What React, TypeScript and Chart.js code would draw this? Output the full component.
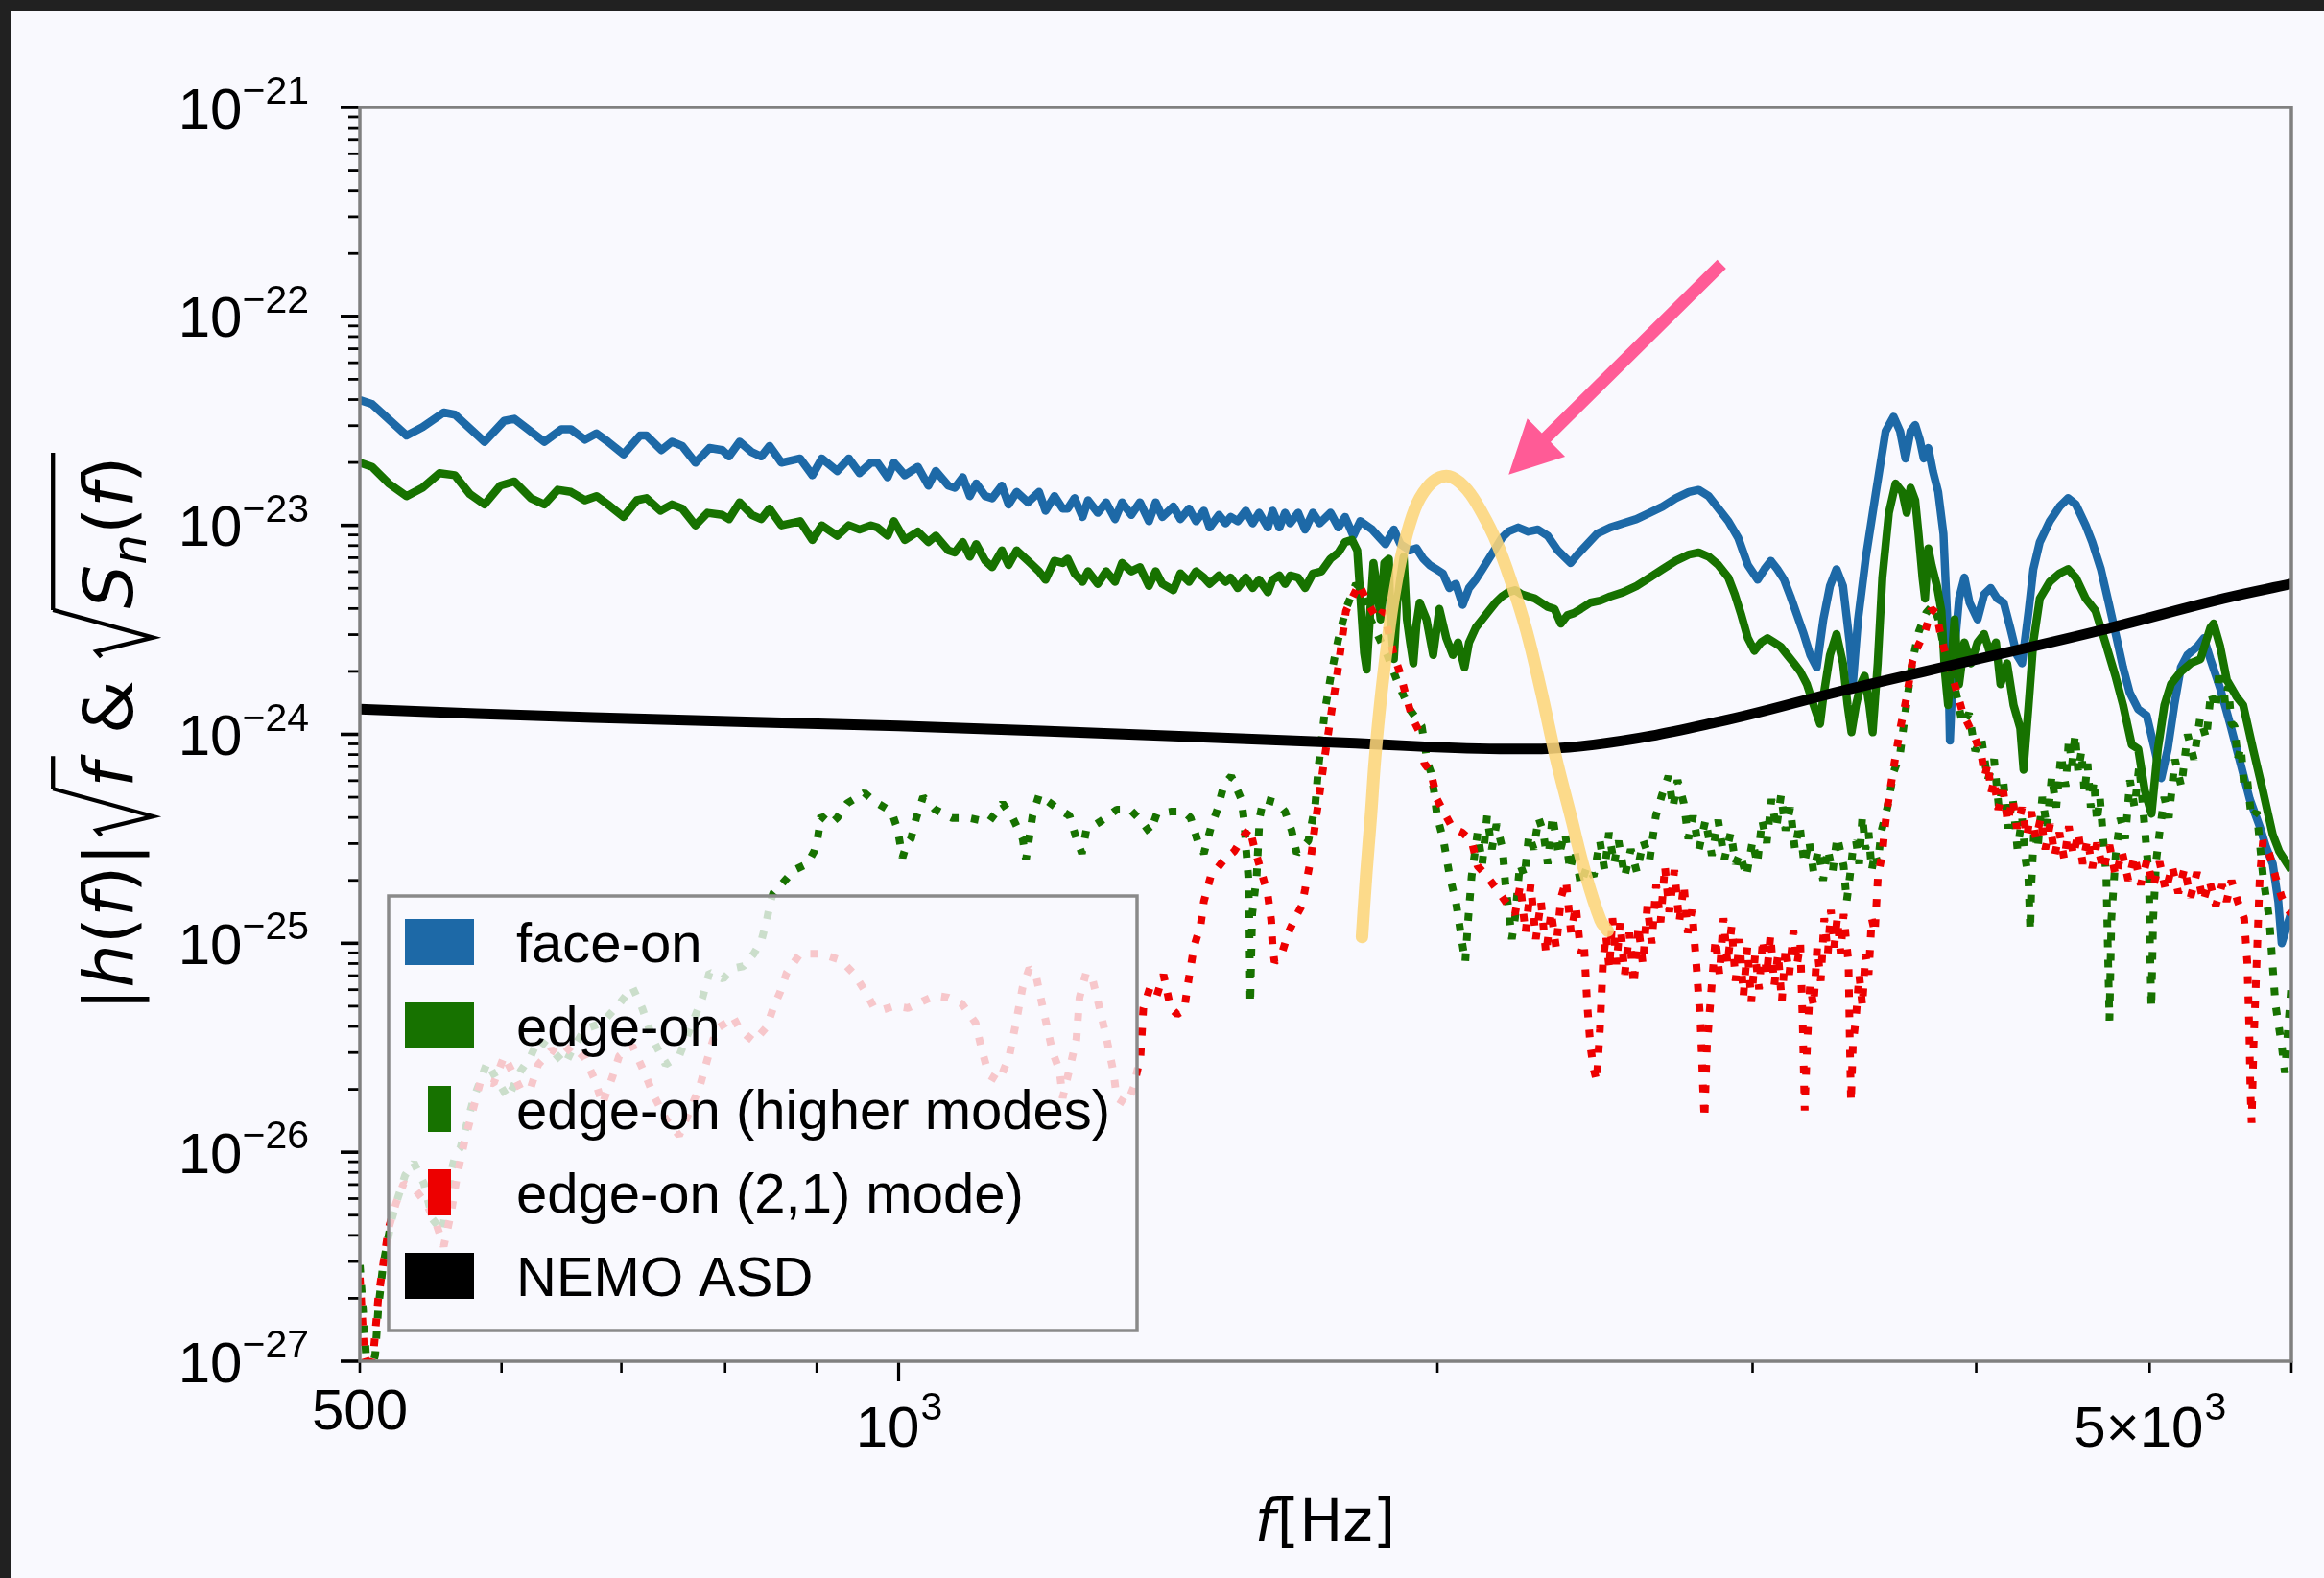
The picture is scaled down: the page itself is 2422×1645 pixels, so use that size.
import React, { useEffect, useRef } from 'react';
import { Chart, registerables } from 'chart.js';

Chart.register(...registerables);

// ---------------- data: [frequency Hz, log10 of strain] ----------------
const faceOn: [number, number][] = [
  [500,-22.40],[508,-22.42],[531,-22.57],[542,-22.53],[557,-22.46],[565,-22.47],[587,-22.60],[602,-22.50],[610,-22.49],[634,-22.60],
  [648,-22.54],[656,-22.54],[668,-22.59],[678,-22.56],[688,-22.60],[702,-22.66],[717,-22.57],[723,-22.57],[737,-22.64],[747,-22.60],
  [757,-22.62],[770,-22.70],[784,-22.63],[797,-22.64],[804,-22.67],[815,-22.60],[828,-22.65],[838,-22.67],[847,-22.62],[860,-22.70],
  [881,-22.68],[895,-22.76],[906,-22.68],[924,-22.74],[938,-22.68],[951,-22.75],[965,-22.70],[973,-22.70],[986,-22.77],[994,-22.70],
  [1008,-22.76],[1025,-22.72],[1039,-22.81],[1049,-22.74],[1066,-22.81],[1075,-22.82],[1086,-22.77],[1096,-22.86],[1105,-22.80],[1118,-22.86],
  [1128,-22.87],[1142,-22.81],[1152,-22.90],[1164,-22.84],[1181,-22.89],[1198,-22.84],[1208,-22.93],[1222,-22.86],[1235,-22.92],[1243,-22.92],
  [1254,-22.87],[1267,-22.96],[1276,-22.88],[1292,-22.94],[1306,-22.89],[1321,-22.97],[1333,-22.89],[1349,-22.95],[1364,-22.89],[1380,-22.98],
  [1392,-22.89],[1404,-22.96],[1424,-22.91],[1437,-22.97],[1453,-22.92],[1466,-22.98],[1481,-22.93],[1492,-23.01],[1510,-22.95],[1523,-22.99],
  [1533,-22.96],[1547,-22.98],[1563,-22.93],[1577,-22.99],[1590,-22.94],[1608,-23.01],[1618,-22.93],[1632,-23.01],[1644,-22.94],[1655,-22.99],
  [1672,-22.94],[1687,-23.02],[1704,-22.94],[1719,-22.99],[1743,-22.94],[1761,-23.01],[1776,-22.96],[1795,-23.05],[1811,-22.98],[1839,-23.02],
  [1871,-23.09],[1891,-23.02],[1907,-23.09],[1931,-23.12],[1947,-23.11],[1964,-23.16],[1980,-23.19],[1997,-23.21],[2014,-23.23],[2031,-23.30],
  [2048,-23.28],[2066,-23.38],[2083,-23.30],[2101,-23.26],[2119,-23.21],[2137,-23.16],[2155,-23.11],[2173,-23.06],[2191,-23.03],[2219,-23.01],
  [2248,-23.03],[2276,-23.02],[2305,-23.05],[2335,-23.12],[2354,-23.15],[2374,-23.18],[2395,-23.14],[2425,-23.09],[2456,-23.04],[2498,-23.01],
  [2540,-22.99],[2584,-22.97],[2628,-22.94],[2672,-22.91],[2718,-22.87],[2764,-22.84],[2799,-22.83],[2835,-22.86],[2871,-22.92],[2908,-22.98],
  [2945,-23.06],[2982,-23.19],[3020,-23.26],[3046,-23.21],[3071,-23.17],[3097,-23.21],[3124,-23.26],[3150,-23.34],[3177,-23.43],[3204,-23.52],
  [3231,-23.62],[3258,-23.68],[3286,-23.45],[3314,-23.29],[3342,-23.21],[3370,-23.29],[3399,-23.56],[3413,-23.76],[3436,-23.45],[3471,-23.15],
  [3516,-22.84],[3560,-22.55],[3597,-22.48],[3627,-22.55],[3652,-22.68],[3676,-22.55],[3698,-22.52],[3720,-22.59],[3739,-22.68],[3761,-22.63],
  [3783,-22.74],[3809,-22.84],[3835,-23.04],[3854,-23.45],[3867,-24.03],[3884,-23.66],[3913,-23.35],[3940,-23.25],[3966,-23.37],[4007,-23.45],
  [4041,-23.33],[4075,-23.30],[4110,-23.35],[4144,-23.37],[4179,-23.49],[4215,-23.62],[4243,-23.66],[4279,-23.41],[4305,-23.21],[4341,-23.08],
  [4397,-22.98],[4453,-22.91],[4502,-22.87],[4547,-22.90],[4605,-23.00],[4644,-23.08],[4696,-23.21],[4743,-23.37],[4792,-23.54],[4832,-23.68],
  [4873,-23.80],[4927,-23.88],[4981,-23.91],[5032,-24.07],[5075,-24.21],[5118,-24.07],[5161,-23.86],[5205,-23.68],[5249,-23.62],[5316,-23.58],
  [5361,-23.54],[5406,-23.64],[5475,-23.78],[5545,-23.95],[5616,-24.13],[5687,-24.31],[5760,-24.44],[5808,-24.54],[5858,-24.62],[5900,-24.80],
  [5926,-25.00],[6000,-24.85],
];

const edgeOn: [number, number][] = [
  [500,-22.70],[508,-22.72],[519,-22.80],[531,-22.86],[542,-22.82],[554,-22.75],[565,-22.76],[576,-22.85],[587,-22.90],[599,-22.81],
  [610,-22.79],[623,-22.87],[634,-22.90],[645,-22.83],[656,-22.84],[668,-22.88],[678,-22.86],[688,-22.90],[702,-22.96],[714,-22.88],
  [723,-22.87],[736,-22.93],[747,-22.90],[757,-22.92],[770,-23.00],[782,-22.94],[797,-22.95],[804,-22.97],[815,-22.89],[828,-22.95],
  [838,-22.97],[847,-22.92],[860,-23.00],[881,-22.98],[895,-23.07],[906,-23.00],[924,-23.05],[938,-23.00],[951,-23.02],[965,-23.00],
  [973,-23.01],[986,-23.05],[994,-22.98],[1008,-23.07],[1025,-23.03],[1039,-23.08],[1049,-23.05],[1066,-23.12],[1075,-23.13],[1086,-23.08],
  [1096,-23.15],[1105,-23.09],[1118,-23.17],[1128,-23.20],[1142,-23.12],[1152,-23.19],[1164,-23.12],[1181,-23.17],[1198,-23.22],[1208,-23.26],
  [1222,-23.17],[1235,-23.18],[1243,-23.16],[1254,-23.23],[1267,-23.27],[1276,-23.22],[1292,-23.28],[1306,-23.22],[1321,-23.27],[1333,-23.18],
  [1349,-23.22],[1364,-23.20],[1380,-23.29],[1392,-23.22],[1404,-23.28],[1424,-23.31],[1437,-23.23],[1453,-23.27],[1466,-23.22],[1481,-23.25],
  [1492,-23.28],[1510,-23.24],[1523,-23.27],[1533,-23.25],[1547,-23.30],[1563,-23.25],[1577,-23.30],[1590,-23.26],[1608,-23.32],[1618,-23.26],
  [1632,-23.24],[1644,-23.28],[1655,-23.24],[1672,-23.25],[1687,-23.30],[1704,-23.23],[1723,-23.22],[1743,-23.16],[1761,-23.13],[1776,-23.08],
  [1792,-23.07],[1804,-23.12],[1820,-23.61],[1826,-23.69],[1836,-23.36],[1842,-23.18],[1852,-23.32],[1859,-23.45],[1868,-23.18],[1879,-23.16],
  [1883,-23.45],[1891,-23.64],[1899,-23.37],[1907,-23.25],[1915,-23.15],[1923,-23.45],[1931,-23.56],[1939,-23.66],[1947,-23.47],[1955,-23.37],
  [1972,-23.45],[1989,-23.62],[2005,-23.40],[2023,-23.54],[2040,-23.62],[2054,-23.56],[2071,-23.68],[2083,-23.56],[2101,-23.49],[2119,-23.45],
  [2137,-23.41],[2155,-23.37],[2173,-23.34],[2191,-23.32],[2210,-23.31],[2229,-23.33],[2248,-23.34],[2267,-23.35],[2286,-23.37],[2305,-23.39],
  [2325,-23.40],[2344,-23.47],[2364,-23.43],[2384,-23.42],[2405,-23.40],[2435,-23.37],[2466,-23.36],[2498,-23.34],[2540,-23.32],[2584,-23.29],
  [2628,-23.25],[2672,-23.21],[2718,-23.17],[2764,-23.14],[2799,-23.13],[2835,-23.15],[2871,-23.19],[2908,-23.25],[2932,-23.33],[2957,-23.43],
  [2982,-23.54],[3007,-23.60],[3033,-23.56],[3058,-23.54],[3084,-23.56],[3110,-23.58],[3137,-23.62],[3164,-23.66],[3190,-23.70],[3217,-23.76],
  [3245,-23.86],[3272,-23.95],[3286,-23.82],[3314,-23.62],[3342,-23.52],[3370,-23.66],[3390,-23.86],[3407,-23.99],[3427,-23.86],[3448,-23.76],
  [3465,-23.72],[3486,-23.86],[3501,-23.99],[3524,-23.66],[3545,-23.25],[3575,-22.94],[3606,-22.80],[3637,-22.84],[3658,-22.94],[3676,-22.82],
  [3698,-22.88],[3714,-23.04],[3733,-23.25],[3745,-23.35],[3761,-23.11],[3777,-23.19],[3803,-23.29],[3825,-23.41],[3842,-23.70],[3858,-23.86],
  [3890,-23.45],[3913,-23.76],[3940,-23.56],[3973,-23.66],[4007,-23.56],[4041,-23.52],[4075,-23.62],[4103,-23.56],[4127,-23.76],[4162,-23.66],
  [4197,-23.86],[4233,-23.97],[4251,-24.17],[4279,-23.86],[4305,-23.56],[4341,-23.35],[4397,-23.27],[4453,-23.23],[4502,-23.21],[4547,-23.25],
  [4605,-23.35],[4664,-23.41],[4723,-23.56],[4784,-23.72],[4832,-23.86],[4886,-24.05],[4927,-24.07],[4969,-24.27],[5012,-24.38],[5053,-24.07],
  [5096,-23.86],[5139,-23.76],[5205,-23.70],[5271,-23.66],[5338,-23.64],[5406,-23.49],[5429,-23.47],[5475,-23.58],[5522,-23.74],[5592,-23.82],
  [5639,-23.86],[5711,-24.07],[5784,-24.27],[5858,-24.48],[5907,-24.56],[6000,-24.65],
];

const edgeOnHigher: [number, number][] = [
  [500,-26.54],[502,-26.75],[504,-26.97],[507,-27.05],[510,-26.97],[512,-26.75],[515,-26.55],[518,-26.43],[521,-26.32],[525,-26.22],
  [530,-26.11],[536,-26.05],[543,-26.15],[549,-26.32],[556,-26.38],[562,-26.10],[566,-26.00],[569,-25.98],[579,-25.74],[589,-25.57],
  [597,-25.66],[605,-25.74],[615,-25.61],[623,-25.54],[629,-25.46],[640,-25.51],[651,-25.58],[657,-25.51],[668,-25.41],[683,-25.38],
  [698,-25.29],[710,-25.21],[719,-25.31],[729,-25.46],[741,-25.58],[754,-25.54],[767,-25.38],[777,-25.26],[784,-25.14],[798,-25.17],
  [808,-25.12],[819,-25.11],[830,-25.05],[838,-24.99],[844,-24.89],[848,-24.80],[851,-24.76],[866,-24.69],[874,-24.65],[889,-24.62],
  [897,-24.56],[901,-24.50],[905,-24.39],[916,-24.43],[924,-24.40],[936,-24.33],[957,-24.28],[969,-24.32],[991,-24.37],[999,-24.46],
  [1005,-24.59],[1010,-24.53],[1016,-24.50],[1023,-24.40],[1032,-24.30],[1048,-24.36],[1071,-24.40],[1094,-24.40],[1123,-24.42],[1143,-24.33],
  [1158,-24.40],[1173,-24.50],[1178,-24.60],[1188,-24.39],[1198,-24.29],[1225,-24.35],[1246,-24.39],[1257,-24.50],[1266,-24.57],[1273,-24.46],
  [1295,-24.42],[1324,-24.36],[1347,-24.36],[1365,-24.41],[1382,-24.47],[1394,-24.38],[1419,-24.37],[1444,-24.37],[1456,-24.40],[1469,-24.51],
  [1481,-24.57],[1494,-24.45],[1507,-24.36],[1520,-24.24],[1534,-24.20],[1554,-24.31],[1560,-24.42],[1563,-24.53],[1568,-24.68],[1570,-24.86],
  [1572,-25.29],[1576,-24.86],[1585,-24.68],[1591,-24.40],[1599,-24.31],[1630,-24.33],[1644,-24.37],[1658,-24.46],[1669,-24.57],[1694,-24.51],
  [1709,-24.34],[1716,-24.16],[1724,-24.01],[1731,-23.88],[1743,-23.73],[1760,-23.55],[1778,-23.40],[1801,-23.28],[1812,-23.30],[1828,-23.42],
  [1851,-23.52],[1875,-23.62],[1900,-23.75],[1930,-23.88],[1960,-23.96],[1975,-24.14],[1983,-24.18],[1991,-24.27],[1999,-24.39],[2016,-24.51],
  [2032,-24.68],[2048,-24.80],[2065,-25.00],[2073,-25.09],[2081,-24.88],[2090,-24.68],[2106,-24.47],[2119,-24.62],[2132,-24.39],[2145,-24.55],
  [2158,-24.43],[2175,-24.55],[2183,-24.72],[2192,-24.84],[2201,-24.98],[2210,-24.88],[2224,-24.62],[2237,-24.68],[2250,-24.48],[2264,-24.55],
  [2278,-24.40],[2292,-24.47],[2305,-24.62],[2319,-24.39],[2338,-24.58],[2357,-24.47],[2372,-24.65],[2386,-24.55],[2405,-24.72],[2425,-24.63],
  [2445,-24.68],[2465,-24.51],[2480,-24.65],[2494,-24.47],[2510,-24.62],[2525,-24.51],[2545,-24.68],[2565,-24.55],[2585,-24.66],[2607,-24.51],
  [2628,-24.60],[2649,-24.39],[2670,-24.29],[2692,-24.20],[2708,-24.35],[2724,-24.22],[2746,-24.33],[2762,-24.50],[2779,-24.39],[2800,-24.55],
  [2824,-24.41],[2847,-24.58],[2870,-24.41],[2893,-24.60],[2917,-24.47],[2935,-24.62],[2952,-24.57],[2976,-24.68],[3000,-24.51],[3018,-24.62],
  [3037,-24.41],[3055,-24.52],[3074,-24.31],[3093,-24.45],[3112,-24.29],[3130,-24.46],[3149,-24.35],[3168,-24.55],[3187,-24.43],[3206,-24.62],
  [3226,-24.51],[3245,-24.66],[3265,-24.55],[3285,-24.70],[3305,-24.55],[3325,-24.66],[3345,-24.49],[3373,-24.63],[3386,-24.80],[3400,-24.68],
  [3413,-24.55],[3427,-24.51],[3441,-24.62],[3455,-24.39],[3469,-24.55],[3483,-24.47],[3497,-24.65],[3511,-24.57],[3525,-24.62],[3539,-24.47],
  [3568,-24.35],[3597,-24.18],[3626,-24.10],[3656,-23.86],[3685,-23.65],[3715,-23.51],[3750,-23.42],[3785,-23.38],[3810,-23.45],[3840,-23.60],
  [3870,-23.70],[3900,-23.81],[3930,-23.95],[3963,-23.90],[3995,-24.08],[4027,-24.02],[4060,-24.22],[4093,-24.12],[4118,-24.35],[4142,-24.22],
  [4167,-24.45],[4192,-24.30],[4218,-24.55],[4243,-24.40],[4262,-24.60],[4277,-24.68],[4288,-24.94],[4294,-24.72],[4310,-24.45],[4329,-24.55],
  [4355,-24.30],[4381,-24.45],[4408,-24.20],[4434,-24.35],[4461,-24.10],[4488,-24.25],[4506,-24.02],[4524,-24.15],[4543,-24.00],[4561,-24.18],
  [4580,-24.08],[4598,-24.28],[4616,-24.14],[4635,-24.35],[4654,-24.22],[4672,-24.42],[4690,-24.30],[4710,-24.50],[4729,-24.68],[4737,-24.98],
  [4748,-25.37],[4760,-24.88],[4787,-24.57],[4815,-24.40],[4845,-24.50],[4875,-24.22],[4904,-24.35],[4933,-24.15],[4963,-24.40],[4980,-24.55],
  [4995,-24.68],[5003,-25.04],[5011,-25.31],[5023,-24.88],[5043,-24.60],[5064,-24.47],[5095,-24.30],[5125,-24.40],[5165,-24.12],[5208,-24.25],
  [5250,-24.00],[5293,-24.12],[5335,-23.92],[5378,-24.02],[5410,-23.80],[5444,-23.88],[5466,-23.71],[5488,-23.69],[5510,-23.85],[5532,-23.77],
  [5555,-23.95],[5577,-23.96],[5600,-24.12],[5623,-24.06],[5646,-24.25],[5669,-24.22],[5700,-24.40],[5738,-24.37],[5785,-24.68],[5831,-24.88],
  [5878,-25.29],[5926,-25.49],[5950,-25.62],[5975,-25.40],[6000,-25.20],
];

const edgeOn21: [number, number][] = [
  [500,-26.60],[503,-26.97],[506,-27.05],[509,-26.95],[512,-26.70],[516,-26.50],[519,-26.36],[524,-26.24],[529,-26.15],[536,-26.17],
  [545,-26.25],[552,-26.35],[557,-26.45],[562,-26.30],[567,-26.10],[572,-25.95],[579,-25.78],[584,-25.66],[594,-25.67],[602,-25.54],
  [607,-25.60],[615,-25.70],[623,-25.69],[629,-25.58],[640,-25.51],[648,-25.54],[657,-25.49],[668,-25.55],[677,-25.66],[683,-25.77],
  [692,-25.64],[698,-25.54],[710,-25.49],[722,-25.63],[729,-25.72],[741,-25.84],[754,-25.92],[761,-25.84],[774,-25.69],[784,-25.52],
  [791,-25.41],[801,-25.38],[808,-25.35],[815,-25.41],[822,-25.44],[830,-25.47],[844,-25.40],[851,-25.31],[859,-25.23],[866,-25.14],
  [881,-25.05],[905,-25.05],[928,-25.08],[945,-25.15],[961,-25.25],[969,-25.31],[978,-25.32],[995,-25.30],[1012,-25.31],[1030,-25.28],
  [1048,-25.25],[1066,-25.26],[1085,-25.29],[1104,-25.38],[1113,-25.51],[1123,-25.63],[1138,-25.66],[1153,-25.54],[1163,-25.38],[1173,-25.21],
  [1183,-25.12],[1193,-25.15],[1204,-25.31],[1209,-25.38],[1219,-25.52],[1230,-25.61],[1235,-25.74],[1246,-25.60],[1257,-25.46],[1262,-25.26],
  [1273,-25.14],[1284,-25.18],[1295,-25.31],[1307,-25.46],[1318,-25.61],[1324,-25.74],[1341,-25.77],[1353,-25.69],[1365,-25.54],[1370,-25.31],
  [1382,-25.21],[1394,-25.25],[1406,-25.15],[1419,-25.31],[1431,-25.34],[1444,-25.32],[1450,-25.21],[1462,-25.02],[1475,-24.91],[1481,-24.80],
  [1494,-24.68],[1520,-24.60],[1540,-24.56],[1561,-24.48],[1571,-24.45],[1581,-24.55],[1595,-24.66],[1608,-24.77],[1615,-24.89],[1618,-25.02],
  [1622,-25.09],[1637,-25.05],[1651,-24.95],[1665,-24.88],[1680,-24.82],[1687,-24.74],[1699,-24.60],[1709,-24.43],[1719,-24.28],[1728,-24.14],
  [1737,-24.01],[1746,-23.88],[1755,-23.76],[1778,-23.41],[1808,-23.28],[1828,-23.37],[1851,-23.45],[1866,-23.41],[1891,-23.62],[1905,-23.70],
  [1920,-23.81],[1936,-23.92],[1952,-23.98],[1967,-24.14],[1983,-24.18],[1999,-24.31],[2016,-24.37],[2040,-24.45],[2065,-24.47],[2090,-24.51],
  [2106,-24.63],[2132,-24.68],[2158,-24.74],[2183,-24.80],[2210,-24.86],[2225,-24.72],[2240,-24.95],[2255,-24.72],[2270,-24.98],[2285,-24.80],
  [2300,-25.05],[2315,-24.85],[2330,-25.02],[2345,-24.78],[2360,-24.70],[2375,-24.95],[2390,-24.82],[2405,-25.05],[2415,-25.00],[2425,-25.29],
  [2435,-25.49],[2445,-25.60],[2455,-25.66],[2465,-25.41],[2475,-25.09],[2484,-24.96],[2495,-25.12],[2505,-24.88],[2518,-25.10],[2530,-24.90],
  [2545,-25.15],[2560,-24.95],[2575,-25.20],[2590,-24.92],[2605,-25.10],[2620,-24.82],[2635,-25.00],[2650,-24.72],[2665,-24.90],[2680,-24.63],
  [2695,-24.85],[2713,-24.65],[2730,-24.90],[2746,-24.72],[2760,-24.95],[2775,-24.84],[2790,-25.09],[2806,-25.39],[2815,-25.70],[2820,-25.84],
  [2829,-25.49],[2847,-25.19],[2860,-24.98],[2875,-25.15],[2890,-24.88],[2905,-25.10],[2920,-24.92],[2935,-25.18],[2950,-24.98],[2965,-25.25],
  [2980,-25.02],[2995,-25.28],[3010,-25.05],[3025,-25.22],[3040,-24.98],[3055,-25.15],[3070,-24.96],[3085,-25.20],[3100,-25.05],[3115,-25.28],
  [3130,-25.02],[3145,-25.15],[3162,-24.94],[3177,-25.10],[3190,-25.00],[3200,-25.39],[3208,-25.80],[3218,-25.49],[3230,-25.20],[3245,-25.30],
  [3260,-25.02],[3275,-25.18],[3290,-24.88],[3305,-25.05],[3318,-24.84],[3332,-25.02],[3345,-24.88],[3360,-25.05],[3373,-24.86],[3385,-25.00],
  [3394,-25.09],[3400,-25.49],[3405,-25.76],[3413,-25.49],[3427,-25.35],[3441,-25.15],[3455,-25.30],[3469,-25.05],[3483,-25.15],[3497,-24.88],
  [3511,-24.95],[3525,-24.68],[3545,-24.57],[3554,-24.47],[3568,-24.35],[3597,-24.16],[3626,-23.98],[3656,-23.83],[3685,-23.65],[3715,-23.57],
  [3745,-23.51],[3776,-23.40],[3801,-23.42],[3822,-23.53],[3838,-23.59],[3869,-23.69],[3900,-23.79],[3932,-23.90],[3963,-23.96],[3995,-24.02],
  [4027,-24.10],[4045,-24.20],[4060,-24.14],[4078,-24.28],[4093,-24.22],[4115,-24.36],[4142,-24.27],[4165,-24.42],[4192,-24.31],[4215,-24.45],
  [4243,-24.35],[4268,-24.49],[4294,-24.37],[4320,-24.50],[4346,-24.40],[4372,-24.55],[4399,-24.43],[4425,-24.58],[4452,-24.47],[4480,-24.60],
  [4506,-24.44],[4533,-24.58],[4561,-24.47],[4588,-24.62],[4616,-24.50],[4644,-24.64],[4672,-24.52],[4710,-24.65],[4748,-24.53],[4786,-24.68],
  [4825,-24.56],[4865,-24.70],[4904,-24.58],[4943,-24.72],[4983,-24.60],[5023,-24.73],[5064,-24.61],[5105,-24.75],[5146,-24.63],[5188,-24.76],
  [5229,-24.64],[5270,-24.78],[5314,-24.66],[5357,-24.80],[5400,-24.70],[5444,-24.82],[5488,-24.72],[5520,-24.80],[5555,-24.70],[5600,-24.80],
  [5646,-24.88],[5669,-25.09],[5683,-25.39],[5692,-25.70],[5701,-25.86],[5715,-25.49],[5738,-25.09],[5761,-24.68],[5785,-24.51],[5831,-24.57],
  [5878,-24.68],[5926,-24.78],[5974,-24.84],[6000,-24.86],
];

const nemoAsd: [number, number][] = [
  [500,-23.88],[675,-23.92],[1000,-23.96],[1446,-24.01],[1772,-24.04],[2167,-24.07],[2445,-24.05],[2872,-23.94],
  [3373,-23.79],[3962,-23.65],[4656,-23.51],[5500,-23.35],[6000,-23.28],
];

// hand-drawn highlight (yellow arch) and the pink arrow annotation
const sketchArch: [number, number][] = [
  [1815,-24.97],[1825,-24.67],[1836,-24.39],[1846,-24.11],[1860,-23.82],[1875,-23.57],[1892,-23.33],[1914,-23.11],
  [1943,-22.92],[1973,-22.82],[2007,-22.77],[2038,-22.77],[2078,-22.83],[2118,-22.94],[2158,-23.08],[2199,-23.27],
  [2242,-23.50],[2285,-23.79],[2329,-24.11],[2374,-24.39],[2420,-24.67],[2467,-24.89],[2490,-24.94],
];
const arrowTail: [number, number] = [2883, -21.75];
const arrowTip: [number, number] = [2192, -22.757];

// axis ticks / labels
const xMinorTicks = [500, 600, 700, 800, 900, 2000, 3000, 4000, 5000, 6000];
const xMajorTicks = [1000];
const xTickLabels = [
  { v: 500, base: '500', sup: '' },
  { v: 1000, base: '10', sup: '3' },
  { v: 5000, base: '5×10', sup: '3' },
];
const yDecades = [-27, -26, -25, -24, -23, -22, -21];
const seriesLabels = ['face-on', 'edge-on', 'edge-on (higher modes)', 'edge-on (2,1) mode)', 'NEMO ASD'];

// ---------------- styling ----------------
const BLUE = '#1d69a7';
const GREEN = '#177200';
const RED = '#ed0000';
const BLACK = '#000000';
const YELLOW = 'rgba(252, 213, 122, 0.88)';
const PINK = '#ff5b96';
const BG = '#f9f9fe';
const SANS = '"Liberation Sans", Arial, Helvetica, sans-serif';
const MATH = '"DejaVu Sans", sans-serif';
const TICK_FONT = 60;
const SUP_FONT = 41;

const W = 2411;
const H = 1634;

const toPts = (arr: [number, number][]) => arr.map(([f, lg]) => ({ x: f, y: Math.pow(10, lg) }));

function drawYTitle(ctx: CanvasRenderingContext2D, baseX: number, centerY: number) {
  const S = 72;
  const reg = `${S}px ${MATH}`;
  const it = `italic ${S}px ${MATH}`;
  const sub = `italic ${Math.round(S * 0.7)}px ${MATH}`;
  type Item = { kind: 'text' | 'rad' | 'gap'; t?: string; font?: string; dy?: number; w: number; over?: number };
  const items: Item[] = [];
  const T = (t: string, font: string, dy = 0, over = 0) => {
    ctx.font = font;
    items.push({ kind: 'text', t, font, dy, w: ctx.measureText(t).width, over });
  };
  const G = (w: number, over = 0) => items.push({ kind: 'gap', w, over });
  const R = () => items.push({ kind: 'rad', w: S * 0.72 });
  T('|', reg); T('h', it); T('(', reg); T('f', it); T(')', reg); T('|', reg); G(S * 0.08);
  R(); T('f', it, 0, 1); G(S * 0.1, 1);
  T(' & ', reg);
  R(); T('S', it, 0, 2); T('n', sub, S * 0.2, 2); T('(', reg, 0, 2); T('f', it, 0, 2); T(')', reg, 0, 2); G(S * 0.05, 2);
  const total = items.reduce((s, i) => s + i.w, 0);
  ctx.save();
  ctx.translate(baseX, centerY);
  ctx.rotate(-Math.PI / 2);
  ctx.fillStyle = '#000';
  ctx.strokeStyle = '#000';
  ctx.textBaseline = 'alphabetic';
  ctx.textAlign = 'left';
  let u = -total / 2;
  const overTop = S * 1.15;
  const spans: Record<number, [number, number]> = {};
  for (const item of items) {
    if (item.kind === 'text') {
      ctx.font = item.font!;
      ctx.fillText(item.t!, u, item.dy || 0);
    } else if (item.kind === 'rad') {
      ctx.lineWidth = S * 0.06;
      ctx.lineJoin = 'miter';
      ctx.beginPath();
      ctx.moveTo(u + S * 0.02, -S * 0.45);
      ctx.lineTo(u + S * 0.1, -S * 0.52);
      ctx.lineTo(u + S * 0.3, S * 0.3);
      ctx.lineTo(u + S * 0.7, -overTop);
      ctx.stroke();
    }
    if (item.over) {
      const sp = spans[item.over];
      if (!sp) spans[item.over] = [u - S * 0.02, u + item.w];
      else sp[1] = u + item.w;
    }
    u += item.w;
  }
  ctx.lineWidth = S * 0.06;
  for (const k of Object.keys(spans)) {
    const [a, b] = spans[Number(k)];
    ctx.beginPath();
    ctx.moveTo(a, -overTop);
    ctx.lineTo(b, -overTop);
    ctx.stroke();
  }
  ctx.restore();
}

const overlayPlugin = {
  id: 'overlay',
  afterDatasetsDraw(chart: any) {
    const { ctx, chartArea: a, scales } = chart;
    const xs = scales.x;
    const ys = scales.y;
    ctx.save();
    ctx.strokeStyle = '#000';
    ctx.lineCap = 'butt';
    const seg = (x1: number, y1: number, x2: number, y2: number) => {
      ctx.beginPath(); ctx.moveTo(x1, y1); ctx.lineTo(x2, y2); ctx.stroke();
    };
    for (const k of yDecades) {
      const py = ys.getPixelForValue(Math.pow(10, k));
      ctx.lineWidth = 3.6;
      seg(a.left - 20, py, a.left, py);
      if (k < -21) {
        for (let m = 2; m <= 9; m++) {
          const p = ys.getPixelForValue(m * Math.pow(10, k));
          ctx.lineWidth = 2.8;
          seg(a.left - 12, p, a.left, p);
        }
      }
    }
    for (const v of xMinorTicks) {
      const px = xs.getPixelForValue(v);
      ctx.lineWidth = 2.6;
      seg(px, a.bottom, px, a.bottom + 12);
    }
    for (const v of xMajorTicks) {
      const px = xs.getPixelForValue(v);
      ctx.lineWidth = 3.2;
      seg(px, a.bottom, px, a.bottom + 21);
    }
    ctx.strokeStyle = '#808080';
    ctx.lineWidth = 3.5;
    ctx.strokeRect(a.left, a.top, a.right - a.left, a.bottom - a.top);
    ctx.restore();
  },
  afterDraw(chart: any) {
    const { ctx, scales } = chart;
    const xs = scales.x;
    const ys = scales.y;
    ctx.save();
    ctx.fillStyle = '#000';
    ctx.textAlign = 'left';
    ctx.textBaseline = 'alphabetic';
    // y tick labels
    for (const k of yDecades) {
      const py = ys.getPixelForValue(Math.pow(10, k));
      const sup = '\u2212' + Math.abs(k);
      ctx.font = `${SUP_FONT}px ${SANS}`;
      const ws = ctx.measureText(sup).width;
      ctx.font = `${TICK_FONT}px ${SANS}`;
      const wb = ctx.measureText('10').width;
      const right = 311;
      ctx.fillText('10', right - ws - wb, py + 21.5);
      ctx.font = `${SUP_FONT}px ${SANS}`;
      ctx.fillText(sup, right - ws, py - 4);
    }
    // x tick labels
    for (const lab of xTickLabels) {
      const px = xs.getPixelForValue(lab.v);
      ctx.font = `${TICK_FONT}px ${SANS}`;
      const wb = ctx.measureText(lab.base).width;
      if (!lab.sup) {
        ctx.fillText(lab.base, px - wb / 2, 1479);
      } else {
        ctx.font = `${SUP_FONT}px ${SANS}`;
        const ws = ctx.measureText(lab.sup).width;
        const left = px - (wb + ws) / 2;
        ctx.font = `${TICK_FONT}px ${SANS}`;
        ctx.fillText(lab.base, left, 1497);
        ctx.font = `${SUP_FONT}px ${SANS}`;
        ctx.fillText(lab.sup, left + wb + 1, 1469);
      }
    }
    // x title: f[Hz]
    {
      ctx.font = `italic 60px ${MATH}`;
      const wf = ctx.measureText('f').width;
      ctx.font = `60px ${MATH}`;
      const wh = ctx.measureText('[Hz]').width;
      const left = 1369 - (wf + wh) / 2;
      ctx.font = `italic 60px ${MATH}`;
      ctx.fillText('f', left, 1595);
      ctx.font = `60px ${MATH}`;
      ctx.fillText('[Hz]', left + wf + 2, 1595);
    }
    // y title
    drawYTitle(ctx, 127, 752);

    // legend (semi-transparent frame over the data)
    const L = 394, T = 923, R = 1174, B = 1376;
    ctx.fillStyle = 'rgba(249, 249, 254, 0.8)';
    ctx.fillRect(L, T, R - L, B - T);
    ctx.strokeStyle = '#8a8a8a';
    ctx.lineWidth = 3.5;
    ctx.strokeRect(L, T, R - L, B - T);
    const ds = chart.data.datasets.filter((d: any) => d.showInLegend);
    ds.forEach((d: any, i: number) => {
      const cy = 971 + i * 87;
      ctx.fillStyle = d.borderColor;
      if (d.borderDash && d.borderDash.length) ctx.fillRect(435, cy - 24, 24, 48);
      else ctx.fillRect(411, cy - 24, 72, 48);
      ctx.fillStyle = '#000';
      ctx.font = `58px ${SANS}`;
      ctx.fillText(d.label, 527, cy + 21);
    });

    // pink arrow annotation
    const tx = xs.getPixelForValue(arrowTail[0]);
    const ty = ys.getPixelForValue(Math.pow(10, arrowTail[1]));
    const hx = xs.getPixelForValue(arrowTip[0]);
    const hy = ys.getPixelForValue(Math.pow(10, arrowTip[1]));
    const dx = hx - tx, dy = hy - ty;
    const len = Math.hypot(dx, dy);
    const ux = dx / len, uy = dy / len;
    const pxv = -uy, pyv = ux;
    const headLen = 55, headHalf = 28, shaftHalf = 6.5;
    const bx = hx - ux * headLen, by = hy - uy * headLen;
    ctx.fillStyle = PINK;
    ctx.beginPath();
    ctx.moveTo(tx + pxv * shaftHalf, ty + pyv * shaftHalf);
    ctx.lineTo(bx + pxv * shaftHalf, by + pyv * shaftHalf);
    ctx.lineTo(bx + pxv * headHalf, by + pyv * headHalf);
    ctx.lineTo(hx, hy);
    ctx.lineTo(bx - pxv * headHalf, by - pyv * headHalf);
    ctx.lineTo(bx - pxv * shaftHalf, by - pyv * shaftHalf);
    ctx.lineTo(tx - pxv * shaftHalf, ty - pyv * shaftHalf);
    ctx.closePath();
    ctx.fill();
    ctx.restore();
  },
};

export default function App() {
  const ref = useRef<HTMLCanvasElement | null>(null);
  useEffect(() => {
    document.body.style.margin = '0';
    document.body.style.background = '#212121';
    const canvas = ref.current;
    if (!canvas) return;
    const line = (label: string, data: [number, number][], color: string, width: number, order: number, extra: any = {}) => ({
      label,
      data: toPts(data),
      borderColor: color,
      backgroundColor: color,
      borderWidth: width,
      pointRadius: 0,
      pointHoverRadius: 0,
      fill: false,
      tension: 0,
      clip: 0,
      order,
      borderJoinStyle: 'round',
      borderCapStyle: 'butt',
      showInLegend: true,
      ...extra,
    });
    const chart = new Chart(canvas, {
      type: 'line',
      data: {
        datasets: [
          line(seriesLabels[0], faceOn, BLUE, 8.5, 5),
          line(seriesLabels[1], edgeOn, GREEN, 8.5, 4),
          line(seriesLabels[2], edgeOnHigher, GREEN, 8, 3, { borderDash: [8, 13], borderJoinStyle: 'bevel' }),
          line(seriesLabels[3], edgeOn21, RED, 8, 2, { borderDash: [8, 13], borderJoinStyle: 'bevel' }),
          line(seriesLabels[4], nemoAsd, BLACK, 11, 1, { tension: 0.4 }),
          line('', sketchArch, YELLOW, 13, 0, { tension: 0.4, showInLegend: false, borderCapStyle: 'round' }),
        ] as any,
      },
      options: {
        animation: false,
        responsive: false,
        devicePixelRatio: 1,
        events: [],
        layout: { padding: { left: 0, top: 101, right: 34, bottom: 0 } },
        plugins: { legend: { display: false }, tooltip: { enabled: false }, title: { display: false } },
        scales: {
          x: {
            type: 'logarithmic',
            min: 500,
            max: 6000,
            grid: { display: false },
            border: { display: false },
            ticks: { display: false },
            afterFit: (s: any) => { s.height = 226; },
          },
          y: {
            type: 'logarithmic',
            min: 1e-27,
            max: 1e-21,
            grid: { display: false },
            border: { display: false },
            ticks: { display: false },
            afterFit: (s: any) => { s.width = 364; },
          },
        },
      } as any,
      plugins: [overlayPlugin],
    });
    let alive = true;
    if ((document as any).fonts && (document as any).fonts.ready) {
      (document as any).fonts.ready.then(() => { if (alive) chart.draw(); });
    }
    return () => {
      alive = false;
      chart.destroy();
    };
  }, []);
  return (
    <div style={{ position: 'fixed', left: 0, top: 0, width: 2422, height: 1645, background: '#212121', overflow: 'hidden' }}>
      <div style={{ position: 'absolute', left: 11, top: 11, width: W, height: H, background: BG }}>
        <canvas ref={ref} width={W} height={H} style={{ display: 'block', width: W, height: H }} />
      </div>
    </div>
  );
}
